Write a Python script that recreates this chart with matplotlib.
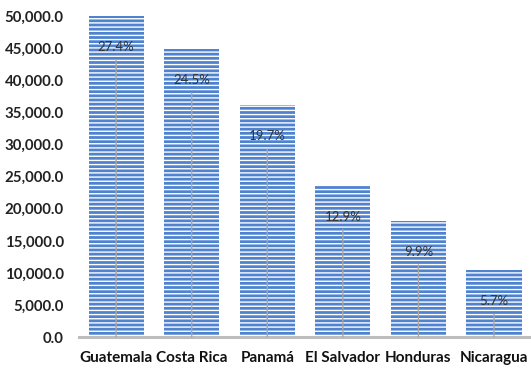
import matplotlib.pyplot as plt
from matplotlib.transforms import offset_copy
from matplotlib.ticker import FuncFormatter

countries = ["Guatemala", "Costa Rica", "Panamá", "El Salvador", "Honduras", "Nicaragua"]
values = [50000, 44900, 36100, 23600, 18100, 10400]
shares = ["27.4%", "24.5%", "19.7%", "12.9%", "9.9%", "5.7%"]

plt.rcParams['font.family'] = ['Lato', 'DejaVu Sans']
plt.rcParams['hatch.linewidth'] = 1.0

fig = plt.figure(figsize=(5.31, 3.68), dpi=100)
ax = fig.add_axes([0.149, 0.084, 0.851, 0.872])

pos = range(len(countries))
ax.bar(pos, values, width=0.73, color='#4f83d0', edgecolor='white',
       linewidth=0, hatch='----', clip_on=False)

# share labels with a thin leader line down to the axis
label_tr = offset_copy(ax.transData, fig=fig, y=-31, units='dots')
for i, (v, s) in enumerate(zip(values, shares)):
    ax.annotate(s, xy=(i, 0), xytext=(i, v), textcoords=label_tr,
                ha='center', va='center', fontsize=9.5, color='#333333',
                arrowprops=dict(arrowstyle='-', color='#a8a8a8', lw=1,
                                shrinkA=3, shrinkB=0))

ax.set_xlim(-0.49, 5.49)
ax.set_ylim(0, 50000)
ax.set_yticks(range(0, 50001, 5000))
ax.yaxis.set_major_formatter(FuncFormatter(lambda y, p: f"{y:,.1f}"))
ax.set_xticks(list(pos))
ax.set_xticklabels(countries)

for side in ['left', 'right', 'top']:
    ax.spines[side].set_visible(False)
ax.spines['bottom'].set_color('#bdbdbd')
ax.spines['bottom'].set_linewidth(2.2)

ax.tick_params(axis='y', length=0, pad=11, labelsize=10.8, labelcolor='#222222')
ax.tick_params(axis='x', length=0, pad=10, labelsize=11, labelcolor='#111111')
for t in ax.get_yticklabels() + ax.get_xticklabels():
    t.set_fontweight('bold')

fig.savefig('out.png', dpi=100)
